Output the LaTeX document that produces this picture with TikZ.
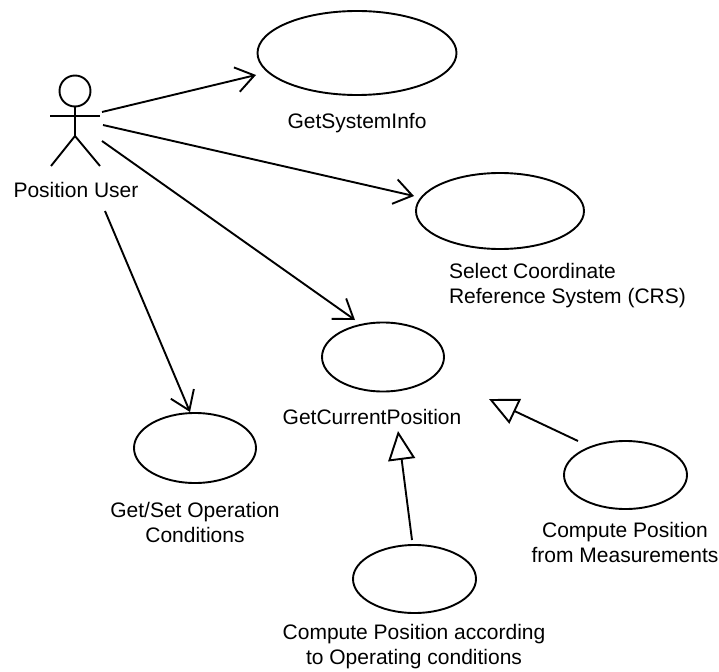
\documentclass[tikz,border=0pt]{standalone}
\usepackage{fontspec}
\setmainfont{Liberation Sans}
\usetikzlibrary{arrows.meta,shapes.geometric}
\begin{document}
\begin{tikzpicture}[x=1pt,y=-1pt,inner sep=0pt,outer sep=0pt,line width=1.9pt,
>={Straight Barb[length=18pt,width=25pt,line width=1.9pt]},
usecase/.style={draw,ellipse,line width=1.9pt},
caption/.style={font=\fontsize{21}{25}\selectfont,align=center},
generalizes/.style={-{Triangle[open,length=29pt,width=27pt,fill=white,line width=1.9pt]}}]
\useasboundingbox (0,0) rectangle (719,671);
% actor
\draw (75,91) node[draw,circle,minimum size=31pt,line width=1.9pt] (head) {};
\coordinate (hip) at (75,136);
\coordinate (armL) at (50,116);
\coordinate (armR) at (100,116);
\coordinate (footL) at (51,166);
\coordinate (footR) at (100,166);
\draw (head.south) -- (hip);
\draw (armL) -- (armR);
\draw (footL) -- (hip) -- (footR);
\draw (76,190) node[caption] (user) {Position User};
\coordinate (portA) at (102,112);
\coordinate (portB) at (103,125);
\coordinate (portC) at (102,141);
\coordinate (portD) at (105,211);
% use cases
\draw (357,53) node[usecase,minimum width=199pt,minimum height=84pt] (sysinfo) {};
\draw (500,211) node[usecase,minimum width=168pt,minimum height=76pt] (crs) {};
\draw (383,357) node[usecase,minimum width=122pt,minimum height=69pt] (current) {};
\draw (195,448) node[usecase,minimum width=122pt,minimum height=70pt] (opcond) {};
\draw (625.5,475) node[usecase,minimum width=123pt,minimum height=68pt] (measure) {};
\draw (414.5,579) node[usecase,minimum width=123pt,minimum height=68pt] (operating) {};
% captions
\draw (357,123) node[caption] (sysinfoT) {GetSystemInfo};
\draw (449,286) node[caption,anchor=west,align=left] (crsT) {Select Coordinate\\Reference System (CRS)};
\draw (372,417) node[caption] (currentT) {GetCurrentPosition};
\draw (195,522) node[caption] (opcondT) {Get/Set Operation\\Conditions};
\draw (625,542) node[caption] (measureT) {Compute Position\\from Measurements};
\draw (414,647) node[caption] (operatingT) {Compute Position according\\to Operating conditions};
% arrows
\coordinate (tipA) at (256,75);
\coordinate (tipB) at (414,196);
\coordinate (tipC) at (355,320);
\coordinate (tipD) at (190,412);
\draw[->] (portA) -- (tipA);
\draw[->] (portB) -- (tipB);
\draw[->] (portC) -- (tipC);
\draw[->] (portD) -- (tipD);
\coordinate (fromOperating) at (412,540);
\coordinate (fromMeasure) at (578,441);
\coordinate (tipE) at (398,431);
\coordinate (tipF) at (489,399);
\draw[generalizes] (fromOperating) -- (tipE);
\draw[generalizes] (fromMeasure) -- (tipF);
\end{tikzpicture}
\end{document}
